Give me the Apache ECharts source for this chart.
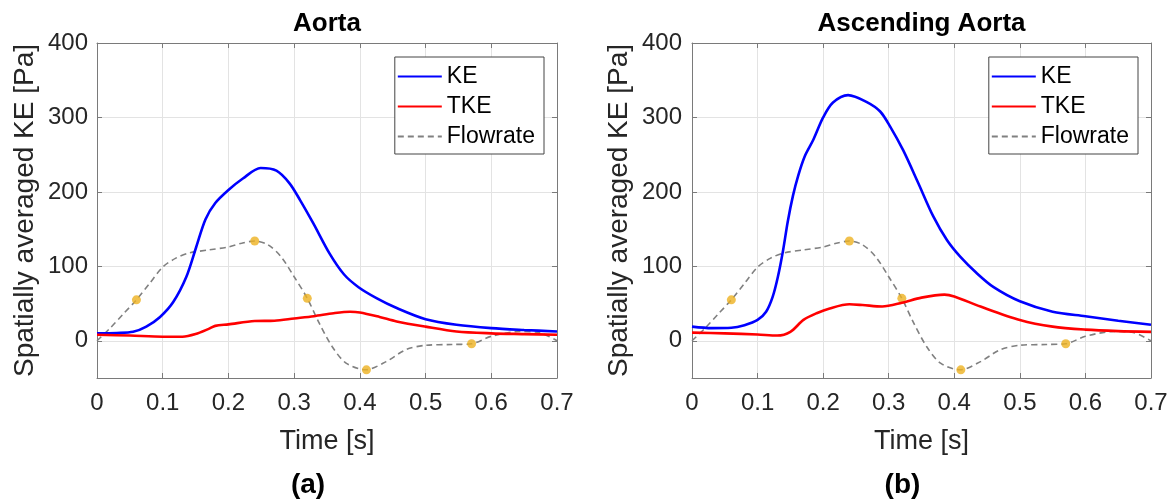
<!DOCTYPE html>
<html>
<head>
<meta charset="utf-8">
<script src="https://cdn.jsdelivr.net/npm/echarts@6/dist/echarts.min.js"></script>
<style>
html,body{margin:0;padding:0;background:#fff;}
#chart{width:1173px;height:502px;}
</style>
</head>
<body>
<div id="chart"></div>
<script>
// ---------- data ----------
var panelTitles = ['Aorta', 'Ascending Aorta'];
var panelLabels = ['(a)', '(b)'];
var seriesNames = ['KE', 'TKE', 'Flowrate'];
var xTicks = [0, 0.1, 0.2, 0.3, 0.4, 0.5, 0.6, 0.7];
var yTicks = [0, 100, 200, 300, 400];

// Aorta
var aortaKE_t = [0, 0.03, 0.055, 0.075, 0.096, 0.116, 0.136, 0.151, 0.165, 0.18, 0.2, 0.222, 0.249, 0.273, 0.293, 0.309, 0.329, 0.354, 0.376, 0.398, 0.426, 0.456, 0.5, 0.547, 0.6, 0.65, 0.7];
var aortaKE_v = [10, 10.5, 12, 19, 32, 52, 86, 126, 163, 185, 202.5, 218, 232, 228.5, 211.5, 189, 158, 117, 89, 72, 57, 44, 29, 21.5, 17, 14.5, 12.5];
var aortaTKE_t = [0, 0.05, 0.1, 0.13, 0.15, 0.17, 0.18, 0.2, 0.24, 0.27, 0.3, 0.33, 0.36, 0.385, 0.4, 0.43, 0.456, 0.5, 0.547, 0.6, 0.65, 0.7];
var aortaTKE_v = [8, 7, 5.5, 5.5, 9, 16, 20, 22, 26.5, 27, 30, 33, 37, 39, 38, 32, 26, 19, 12.5, 10, 9, 8];

// Ascending aorta
var ascKE_t = [0, 0.03, 0.06, 0.08, 0.1, 0.113, 0.123, 0.131, 0.139, 0.146, 0.154, 0.162, 0.172, 0.185, 0.2, 0.215, 0.238, 0.266, 0.287, 0.302, 0.322, 0.345, 0.368, 0.389, 0.409, 0.434, 0.46, 0.5, 0.55, 0.6, 0.65, 0.7];
var ascKE_v = [19, 17, 17.5, 21, 28, 39, 59, 86, 122, 160, 195, 222, 248, 270, 300, 320, 330, 321, 308, 288, 256, 212, 167, 135, 113, 91, 72, 53, 39, 33, 27, 21.5];
var ascTKE_t = [0, 0.05, 0.1, 0.13, 0.15, 0.17, 0.19, 0.21, 0.24, 0.26, 0.29, 0.32, 0.35, 0.385, 0.4, 0.44, 0.5, 0.55, 0.6, 0.65, 0.7];
var ascTKE_v = [11, 10, 8.5, 7, 12, 28, 37, 43.5, 49, 48, 46, 51, 58, 62, 59.5, 46, 28, 19, 15, 13, 12];

// Flowrate (scaled, same in both panels)
var flow_t = [0, 0.02, 0.04, 0.06, 0.08, 0.1, 0.12, 0.14, 0.17, 0.2, 0.22, 0.24, 0.26, 0.28, 0.3, 0.32, 0.338, 0.358, 0.379, 0.409, 0.44, 0.47, 0.5, 0.54, 0.57, 0.6, 0.643, 0.673, 0.7];
var flow_v = [0, 17, 36, 55, 77, 99, 111, 118, 122, 126, 131, 134, 129, 113, 86, 57, 24, -8, -30, -39, -28, -12, -6, -5, -4, 6, 12.5, 11, 0];
var marker_t = [0.06, 0.24, 0.32, 0.41, 0.57];
var marker_v = [55, 134, 57, -39, -4];

// ---------- helpers ----------
function zip(t, v) { return t.map(function (x, i) { return [x, v[i]]; }); }

var grids = [
  { left: 97, top: 43, width: 460, height: 335 },
  { left: 692, top: 43, width: 459, height: 335 }
];
var FONT = '"Liberation Sans", Arial, Helvetica, sans-serif';
var axisCol = '#7a7a7a';
var gridCol = '#e3e3e3';
var txtCol = '#262626';
var SMOOTH = 0.3;

var xAxes = [], yAxes = [], series = [], legends = [], graphics = [];
var panels = [
  { ke: zip(aortaKE_t, aortaKE_v), tke: zip(aortaTKE_t, aortaTKE_v), yNameGap: 58, yLabMargin: 9 },
  { ke: zip(ascKE_t, ascKE_v), tke: zip(ascTKE_t, ascTKE_v), yNameGap: 59, yLabMargin: 10 }
];

panels.forEach(function (p, g) {
  var xi = xAxes.length, yi = yAxes.length;
  xAxes.push({
    type: 'value', gridIndex: g, min: 0, max: 0.7, interval: 0.1, position: 'bottom',
    name: 'Time [s]', nameLocation: 'middle', nameGap: 50,
    nameTextStyle: { fontFamily: FONT, fontSize: 27, color: txtCol },
    axisLine: { show: true, onZero: false, lineStyle: { color: axisCol, width: 1 } },
    axisTick: { show: true, inside: true, length: 5, lineStyle: { color: axisCol } },
    axisLabel: { fontFamily: FONT, fontSize: 24, color: txtCol, margin: 13,
      formatter: function (v) { return String(Math.round(v * 10) / 10); } },
    splitLine: { show: true, lineStyle: { color: gridCol, width: 1 } }
  });
  xAxes.push({
    type: 'value', gridIndex: g, min: 0, max: 0.7, interval: 0.1, position: 'top',
    axisLine: { show: true, onZero: false, lineStyle: { color: axisCol, width: 1 } },
    axisTick: { show: true, inside: true, length: 5, lineStyle: { color: axisCol } },
    axisLabel: { show: false }, splitLine: { show: false }
  });
  yAxes.push({
    type: 'value', gridIndex: g, min: -50, max: 400, position: 'left',
    name: 'Spatially averaged KE [Pa]', nameLocation: 'middle', nameGap: p.yNameGap,
    nameTextStyle: { fontFamily: FONT, fontSize: 28, color: txtCol },
    axisLine: { show: true, onZero: false, lineStyle: { color: axisCol, width: 1 } },
    axisTick: { show: true, inside: true, length: 5, customValues: yTicks, lineStyle: { color: axisCol } },
    axisLabel: { fontFamily: FONT, fontSize: 24, color: txtCol, margin: p.yLabMargin, customValues: yTicks },
    splitLine: { show: true, lineStyle: { color: gridCol, width: 1 } }
  });
  yAxes.push({
    type: 'value', gridIndex: g, min: -50, max: 400, position: 'right',
    axisLine: { show: true, onZero: false, lineStyle: { color: axisCol, width: 1 } },
    axisTick: { show: true, inside: true, length: 5, customValues: yTicks, lineStyle: { color: axisCol } },
    axisLabel: { show: false }, splitLine: { show: false }
  });

  series.push({
    name: 'Flowrate', type: 'line', xAxisIndex: xi, yAxisIndex: yi, data: zip(flow_t, flow_v),
    smooth: SMOOTH, symbol: 'none', silent: true, z: 2,
    lineStyle: { color: '#808080', width: 1.6, type: [6, 4] }, itemStyle: { color: '#808080' }
  });
  series.push({
    name: 'Markers', type: 'scatter', xAxisIndex: xi, yAxisIndex: yi, data: zip(marker_t, marker_v),
    symbol: 'circle', symbolSize: 9, silent: true, z: 3,
    itemStyle: { color: '#EDB120' }
  });
  series.push({
    name: 'KE', type: 'line', xAxisIndex: xi, yAxisIndex: yi, data: p.ke,
    smooth: SMOOTH, symbol: 'none', silent: true, z: 4,
    lineStyle: { color: '#0000ff', width: 2.6 }, itemStyle: { color: '#0000ff' }
  });
  series.push({
    name: 'TKE', type: 'line', xAxisIndex: xi, yAxisIndex: yi, data: p.tke,
    smooth: SMOOTH, symbol: 'none', silent: true, z: 4,
    lineStyle: { color: '#ff0000', width: 2.6 }, itemStyle: { color: '#ff0000' }
  });

  var gr = grids[g];
  legends.push({
    data: seriesNames, orient: 'vertical',
    right: 1173 - (gr.left + gr.width) + 13, top: 57,
    itemWidth: 44, itemHeight: 14, itemGap: 7,
    padding: [8, 9, 6, 2],
    borderColor: '#444', borderWidth: 1, backgroundColor: '#fff',
    selectedMode: false,
    itemStyle: { opacity: 0, borderWidth: 0 },
    textStyle: { fontFamily: FONT, fontSize: 23, color: '#000' }
  });

  var cx = gr.left + gr.width / 2;
  graphics.push({
    type: 'text', x: cx, y: 24,
    style: { text: panelTitles[g], font: 'bold 26px ' + FONT, fill: '#000', textAlign: 'center', textVerticalAlign: 'middle' }
  });
  graphics.push({
    type: 'text', x: cx - 19, y: 485,
    style: { text: panelLabels[g], font: 'bold 28px ' + FONT, fill: '#000', textAlign: 'center', textVerticalAlign: 'middle' }
  });
});

var chart = echarts.init(document.getElementById('chart'), null, { renderer: 'canvas' });
chart.setOption({
  animation: false,
  backgroundColor: '#fff',
  grid: grids.map(function (g) { return Object.assign({ containLabel: false }, g); }),
  xAxis: xAxes,
  yAxis: yAxes,
  legend: legends,
  series: series,
  graphic: graphics
});
</script>
</body>
</html>
